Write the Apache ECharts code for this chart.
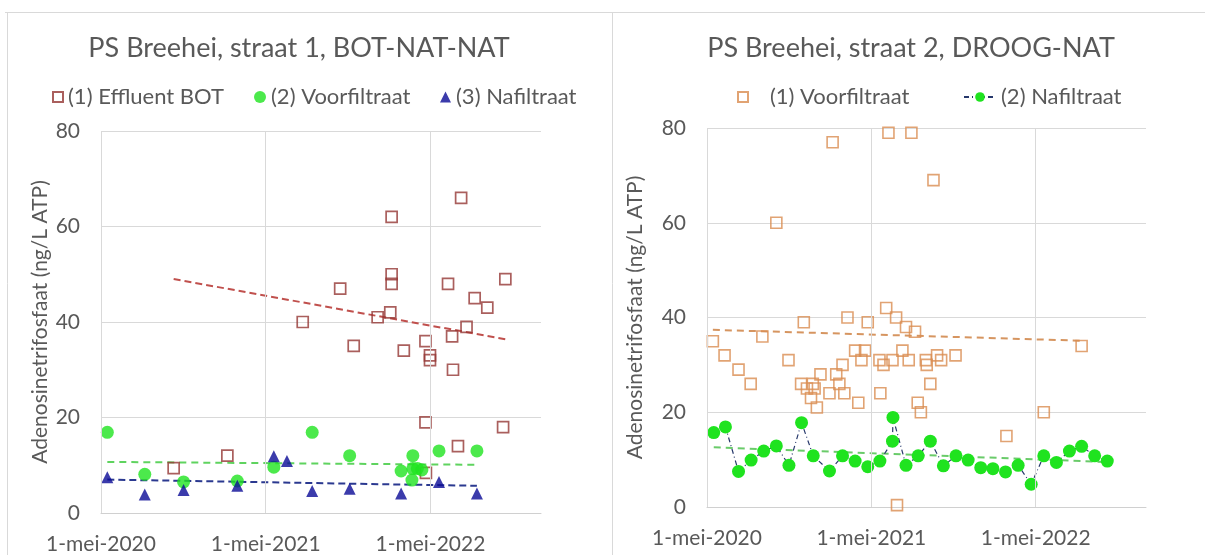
<!DOCTYPE html>
<html>
<head>
<meta charset="utf-8">
<script src="https://cdn.jsdelivr.net/npm/echarts@6/dist/echarts.min.js"></script>
<style>
html,body{margin:0;padding:0;background:#ffffff;}
#chart{width:1205px;height:555px;}
</style>
</head>
<body>
<div id="chart"></div>
<script>
// x values are days since 1-mei-2020 (date axis)
const xTickDays = [0, 365, 730];
const xTickLabels = ['1-mei-2020', '1-mei-2021', '1-mei-2022'];
const xAxisEndDay = 975; // 1-jan-2023
const yMin = 0, yMax = 80, yStep = 20;

// Left panel: PS Breehei, straat 1, BOT-NAT-NAT
const s1BotDays   = [161, 280, 447, 530, 560, 613, 641, 644, 644, 644, 671, 719, 719, 720, 729, 729, 769, 778, 780, 791, 798, 810, 828, 856, 891, 896];
const s1BotValues = [9.4, 12, 40, 47, 35, 41, 42, 62, 50, 48, 34, 36, 19, 8.4, 33, 32, 48, 37, 30, 14, 66, 39, 45, 43, 18, 49];
const s1VoorDays   = [14, 97, 183, 302, 383, 468, 551, 665, 689, 691, 691, 701, 711, 749, 833];
const s1VoorValues = [16.9, 8.1, 6.5, 6.7, 9.6, 16.9, 12, 8.8, 6.9, 12, 9.3, 9.3, 9.0, 13, 13];
const s1NaDays   = [14, 97, 183, 302, 383, 412, 468, 551, 665, 749, 833];
const s1NaValues = [7.5, 3.9, 4.8, 5.7, 11.9, 10.9, 4.6, 5.1, 4.1, 6.5, 4.1];
// trend lines (end points)
const s1BotTrendDays = [161, 896],  s1BotTrendValues = [49.0, 36.4];
const s1VoorTrendDays = [14, 833],  s1VoorTrendValues = [10.7, 10.1];
const s1NaTrendDays = [14, 833],    s1NaTrendValues = [7.0, 5.7];

// Right panel: PS Breehei, straat 2, DROOG-NAT
const s2VoorDays   = [13, 39, 70, 97, 123, 154, 181, 209, 215, 222, 231, 235, 239, 244, 252, 272, 279, 287, 294, 301, 305, 312, 329, 336, 343, 351, 357, 383, 385, 392, 398, 403, 412, 422, 420, 434, 442, 448, 454, 462, 468, 475, 486, 488, 496, 503, 511, 520, 552, 665, 748, 832];
const s2VoorValues = [35, 32, 29, 26, 36, 60, 31, 26, 39, 25, 23, 26, 25, 21, 28, 24, 77, 28, 26, 30, 24, 40, 33, 22, 31, 33, 39, 31, 24, 30, 42, 79, 31, 0.4, 40, 33, 38, 31, 79, 37, 22, 20, 31, 30, 26, 69, 32, 31, 32, 15, 20, 34];
const s2NaDays   = [15, 41, 70, 98, 126, 154, 182, 210, 236, 272, 301, 329, 357, 384, 412, 413, 442, 469, 496, 525, 553, 580, 608, 635, 663, 691, 720, 748, 776, 805, 832, 861, 889];
const s2NaValues = [15.7, 16.9, 7.5, 9.9, 11.8, 12.9, 8.8, 17.8, 10.8, 7.6, 10.8, 9.7, 8.5, 9.7, 13.9, 18.9, 8.8, 10.8, 13.9, 8.7, 10.8, 9.9, 8.3, 8.1, 7.4, 8.8, 4.8, 10.8, 9.4, 11.8, 12.8, 10.8, 9.7];
const s2VoorTrendDays = [13, 832], s2VoorTrendValues = [37.4, 35.1];
const s2NaTrendDays = [15, 889],   s2NaTrendValues = [12.6, 9.5];

const titles = ['PS Breehei, straat 1, BOT-NAT-NAT', 'PS Breehei, straat 2, DROOG-NAT'];
const yName = 'Adenosinetrifosfaat (ng/L ATP)';
const names = {
  bot: '(1) Effluent BOT', voor1: '(2) Voorfiltraat', na1: '(3) Nafiltraat',
  voor2: '(1) Voorfiltraat', na2: '(2) Nafiltraat'
};

const FONT = 'Lato';
const GRAY = '#595959';
const GRID = '#d9d9d9';

function pts(xs, ys) { return xs.map((x, i) => [x, ys[i]]); }

function xAxisCfg(gi) {
  return {
    type: 'value', gridIndex: gi, min: 0, max: xAxisEndDay, interval: 365,
    axisLine: { show: true, lineStyle: { color: '#d0d0d0', width: 1 } },
    axisTick: { show: false },
    splitLine: { show: false },
    axisLabel: {
      margin: 21, color: GRAY, fontFamily: FONT, fontSize: 21,
      formatter: v => { const i = xTickDays.indexOf(v); return i >= 0 ? xTickLabels[i] : ''; }
    }
  };
}
function yAxisCfg(gi, gap) {
  return {
    type: 'value', gridIndex: gi, min: yMin, max: yMax, interval: yStep,
    axisLine: { show: false }, axisTick: { show: false },
    splitLine: { show: true, lineStyle: { color: GRID, width: 1 } },
    axisLabel: { margin: 21, color: GRAY, fontFamily: FONT, fontSize: 21 },
    name: yName, nameLocation: 'middle', nameGap: gap,
    nameTextStyle: { color: GRAY, fontFamily: FONT, fontSize: 21 }
  };
}
function gridLinesSeries(gi) {
  return {
    type: 'line', name: 'vgrid' + gi, xAxisIndex: gi, yAxisIndex: gi, data: [], z: 0, silent: true,
    markLine: {
      silent: true, symbol: ['none', 'none'], animation: false,
      label: { show: false },
      lineStyle: { color: GRID, width: 1, type: 'solid' },
      data: xTickDays.map(d => ({ xAxis: d }))
    }
  };
}
function trend(gi, xs, ys, color, dash) {
  return {
    type: 'line', name: 'trend', xAxisIndex: gi, yAxisIndex: gi, data: pts(xs, ys),
    symbol: 'none', silent: true, z: 1,
    lineStyle: { color: color, width: 2, type: dash }
  };
}
function legendCfg(name, left, w, h, pad) {
  return {
    data: [name], left: left, top: 86, padding: 0, itemWidth: w, itemHeight: h,
    selectedMode: false,
    formatter: n => (pad || '') + n,
    textStyle: { color: GRAY, fontFamily: FONT, fontSize: 22 }
  };
}

const option = {
  animation: false,
  backgroundColor: '#ffffff',
  title: [
    { text: titles[0], left: 299, top: 35, textAlign: 'center', padding: 0,
      textStyle: { color: GRAY, fontFamily: FONT, fontSize: 27, fontWeight: 'normal' } },
    { text: titles[1], left: 911, top: 35, textAlign: 'center', padding: 0,
      textStyle: { color: GRAY, fontFamily: FONT, fontSize: 27, fontWeight: 'normal' } }
  ],
  legend: [
    legendCfg(names.bot, 52, 10, 10),
    legendCfg(names.voor1, 254, 12, 12),
    legendCfg(names.na1, 440, 11, 11),
    legendCfg(names.voor2, 737, 10, 10, '   '),
    legendCfg(names.na2, 963, 32, 12)
  ],
  grid: [
    { left: 101, right: 664, top: 131, bottom: 42 },
    { left: 707, right: 59, top: 128, bottom: 48 }
  ],
  xAxis: [xAxisCfg(0), xAxisCfg(1)],
  yAxis: [yAxisCfg(0, 50), yAxisCfg(1, 61)],
  graphic: [
    { type: 'line', shape: { x1: 5, y1: 12.5, x2: 1205, y2: 12.5 }, style: { stroke: '#d9d9d9', lineWidth: 1 } },
    { type: 'line', shape: { x1: 7.5, y1: 12, x2: 7.5, y2: 555 }, style: { stroke: '#d9d9d9', lineWidth: 1 } },
    { type: 'line', shape: { x1: 612.5, y1: 12, x2: 612.5, y2: 555 }, style: { stroke: '#d9d9d9', lineWidth: 1 } }
  ],
  series: [
    gridLinesSeries(0),
    gridLinesSeries(1),
    trend(0, s1BotTrendDays, s1BotTrendValues, '#c0504d', [7, 4]),
    trend(0, s1VoorTrendDays, s1VoorTrendValues, '#5fd35f', [7, 5]),
    trend(0, s1NaTrendDays, s1NaTrendValues, '#2b3990', [7, 4]),
    {
      type: 'scatter', name: names.bot, xAxisIndex: 0, yAxisIndex: 0, z: 2,
      data: pts(s1BotDays, s1BotValues), symbol: 'rect', symbolSize: 11,
      itemStyle: { color: 'rgba(0,0,0,0)', borderColor: '#953735', borderWidth: 1.7 }
    },
    {
      type: 'scatter', name: names.voor1, xAxisIndex: 0, yAxisIndex: 0, z: 3,
      data: pts(s1VoorDays, s1VoorValues), symbol: 'circle', symbolSize: 13,
      itemStyle: { color: '#1fe31f' }
    },
    {
      type: 'scatter', name: names.na1, xAxisIndex: 0, yAxisIndex: 0, z: 4,
      data: pts(s1NaDays, s1NaValues), symbol: 'triangle', symbolSize: 12,
      itemStyle: { color: '#0a0a96' }
    },
    trend(1, s2VoorTrendDays, s2VoorTrendValues, '#d69560', [7, 5]),
    trend(1, s2NaTrendDays, s2NaTrendValues, '#6acb6a', [7, 5]),
    {
      type: 'scatter', name: names.voor2, xAxisIndex: 1, yAxisIndex: 1, z: 2,
      data: pts(s2VoorDays, s2VoorValues), symbol: 'rect', symbolSize: 11,
      itemStyle: { color: 'rgba(0,0,0,0)', borderColor: '#da8c50', borderWidth: 1.6 }
    },
    {
      type: 'line', name: names.na2, xAxisIndex: 1, yAxisIndex: 1, z: 3,
      data: pts(s2NaDays, s2NaValues), symbol: 'circle', symbolSize: 13, showAllSymbol: true,
      itemStyle: { color: '#1fe31f', borderWidth: 0 },
      lineStyle: { color: '#26386b', width: 1.2, type: [5, 3, 1, 3] }
    }
  ]
};

const chart = echarts.init(document.getElementById('chart'), null, { renderer: 'canvas' });
chart.setOption(option);
</script>
</body>
</html>
